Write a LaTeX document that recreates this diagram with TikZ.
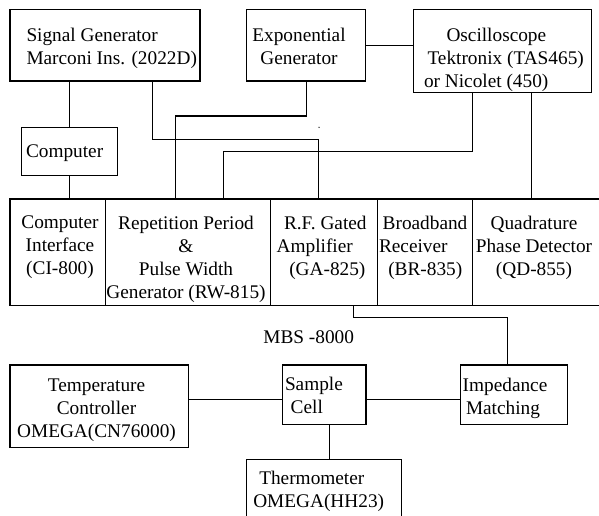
\documentclass[tikz,border=0pt]{standalone}
\usepackage{fontspec}
\setmainfont{Liberation Serif}
\usepackage{tikz}
\usetikzlibrary{positioning}

\begin{document}
\begin{tikzpicture}[x=1pt, y=-1pt, line width=1.1pt,
	box/.style={draw, inner sep=0pt, outer sep=0pt, anchor=north west},
	cell/.style={box, minimum height=106.5pt},
	txt/.style={inner sep=0pt, outer sep=0pt, font=\fontsize{19.3}{23}\selectfont}]
	\useasboundingbox (0,0) rectangle (599,516);

	%top boxes
	\node[box, minimum width=190pt, minimum height=71.7pt] (siggen) at (10,9.3) {};
	\node[txt, align=left, anchor=north west] (siggen-t) at (26.5,28.4) {Signal Generator\\Marconi Ins. (2022D)};
	\node[box, minimum width=119pt, minimum height=71.7pt] (expgen) at (246.7,9.3) {};
	\node[txt, align=center, anchor=north] (expgen-t) at (299,28.4) {Exponential\\Generator};
	\node[box, minimum width=178.4pt, minimum height=83pt] (osc) at (413.3,9.3) {};
	\node[txt, align=left, anchor=north west] (osc-t) at (424,28.4) {\hspace*{22.5pt}Oscilloscope\\\hspace*{3.5pt}Tektronix (TAS465)\\or Nicolet (450)};
	\node[box, minimum width=95.6pt, minimum height=47.6pt] (computer) at (21.7,127.7) {};
	\node[txt, anchor=base west] (computer-t) at (26,157.3) {Computer};

	%MBS-8000 row
	\node[cell, minimum width=95.3pt] (ci) at (10,199) {};
	\node[cell, minimum width=165.4pt, right=0pt of ci] (rw) {};
	\node[cell, minimum width=106.6pt, right=0pt of rw] (ga) {};
	\node[cell, minimum width=95.2pt, right=0pt of ga] (br) {};
	\node[cell, minimum width=130pt, right=0pt of br] (qd) {};
	\node[txt, align=center, anchor=north] (ci-t) at (60,215.7) {Computer\\Interface\\(CI-800)};
	\node[txt, align=center, anchor=north] (rw-t) at (186,215.7) {Repetition Period\\\&\\Pulse Width\\Generator (RW-815)};
	\node[txt, align=left, anchor=north west] (ga-t) at (276.7,215.7) {\hspace*{7.3pt}R.F. Gated\\Amplifier\\\hspace*{12.6pt}(GA-825)};
	\node[txt, align=left, anchor=north west] (br-t) at (379,215.7) {\hspace*{3.7pt}Broadband\\Receiver\\\hspace*{9.3pt}(BR-835)};
	\node[txt, align=center, anchor=north] (qd-t) at (534,215.7) {Quadrature\\Phase Detector\\(QD-855)};
	\node[txt, anchor=base] (mbs) at (308.7,343.3) {MBS -8000};

	%bottom boxes
	\node[box, minimum width=178.3pt, minimum height=82.7pt] (temp) at (10,365) {};
	\node[txt, align=center, anchor=north] (temp-t) at (96.5,378.4) {Temperature\\Controller\\OMEGA(CN76000)};
	\node[box, minimum width=83.3pt, minimum height=59.3pt] (sample) at (282.7,365) {};
	\node[txt, align=left, anchor=north west] (sample-t) at (285,377.4) {Sample\\\hspace*{5.7pt}Cell};
	\node[box, minimum width=106.6pt, minimum height=59.3pt] (imp) at (460.7,365) {};
	\node[txt, align=left, anchor=north west] (imp-t) at (462.7,378.4) {Impedance\\\hspace*{3.3pt}Matching};
	\node[box, minimum width=155.1pt, minimum height=75pt] (therm) at (246.7,459.3) {};
	\node[txt, align=left, anchor=north west] (therm-t) at (253.3,471) {\hspace*{6pt}Thermometer\\OMEGA(HH23)};

	%wiring
	\draw (computer.north) -- (computer.north |- siggen.south);
	\draw (computer.south) -- (computer.south |- ci.north);
	\draw ([xshift=47.3pt]siggen.south) -- ++(0,58.3) -| ([xshift=-5.7pt]ga.north);
	\draw (expgen.south) -- ++(0,35) -| ([xshift=-12.3pt]rw.north);
	\draw ([xshift=-29.8pt]osc.south) -- ++(0,59.4) -| ([xshift=35.3pt]rw.north);
	\draw ([xshift=29.2pt]osc.south) -- ([xshift=29.2pt]osc.south |- qd.north);
	\draw (expgen.east) -- (expgen.east -| osc.west);
	\fill (319,127.3) circle (0.7pt);
	\draw ([xshift=29.7pt]ga.south) -- ++(0,11.8) -| ([xshift=-6.3pt]imp.north);
	\draw ([yshift=-4.6pt]sample.west) -- ([yshift=-4.6pt]sample.west -| temp.east);
	\draw ([yshift=-4.6pt]sample.east) -- ([yshift=-4.6pt]sample.east -| imp.west);
	\draw ([xshift=5.5pt]sample.south) -- ([xshift=5.5pt]sample.south |- therm.north);
\end{tikzpicture}
\end{document}
